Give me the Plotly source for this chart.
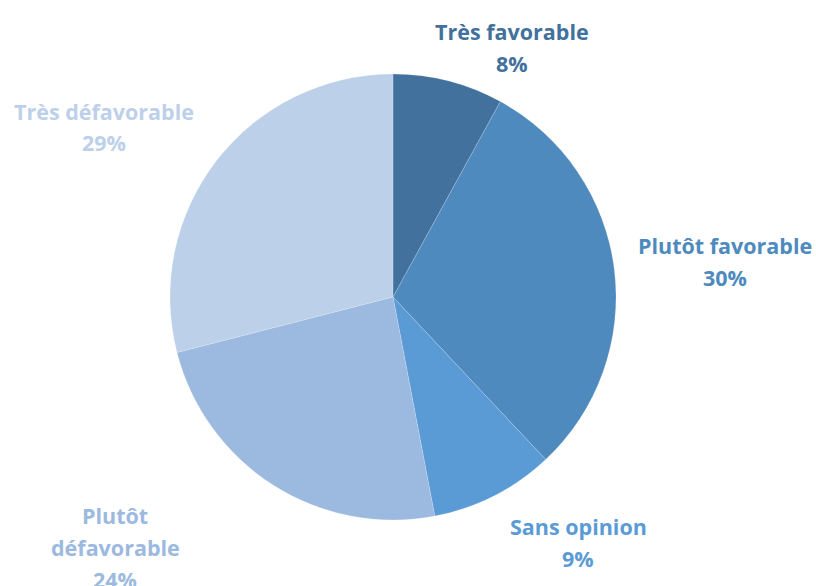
import plotly.graph_objects as go

# Opinion shares (percent)
categories = ["Très favorable", "Plutôt favorable", "Sans opinion", "Plutôt défavorable", "Très défavorable"]
values = [8, 30, 9, 24, 29]
colors = ["#41719C", "#4E8ABE", "#5B9BD5", "#9CB9E0", "#BDD0EA"]

W, H = 816, 586
cx, cy, r = 393, 297, 223

fig = go.Figure(go.Pie(
    labels=categories,
    values=values,
    sort=False,
    direction="clockwise",
    rotation=0,
    marker=dict(colors=colors, line=dict(color="rgba(255,255,255,0.35)", width=0.5)),
    textinfo="none",
    hoverinfo="label+percent",
    showlegend=False,
    domain=dict(x=[(cx - r) / W, (cx + r) / W], y=[(H - cy - r) / H, (H - cy + r) / H]),
))

# Label line positions (pixel centres): each category label is split into lines
label_lines = [
    ["Très favorable"],
    ["Plutôt favorable"],
    ["Sans opinion"],
    ["Plutôt", "défavorable"],
    ["Très défavorable"],
]
label_pos = [(512, 31), (725, 245), (578, 526), (115, 515), (104, 111)]
line_gap = 32

annotations = []
total = sum(values)
for lines, (px, py), v, c in zip(label_lines, label_pos, values, colors):
    all_lines = lines + [f"{round(100 * v / total)}%"]
    for i, t in enumerate(all_lines):
        annotations.append(dict(
            x=px / W, y=1 - (py + i * line_gap) / H, xref="paper", yref="paper",
            text=f"<b>{t}</b>", showarrow=False, xanchor="center", yanchor="middle",
            font=dict(family="Open Sans", size=21.5, color=c),
        ))

fig.update_layout(
    width=W, height=H,
    margin=dict(l=0, r=0, t=0, b=0),
    paper_bgcolor="white",
    plot_bgcolor="white",
    annotations=annotations,
)

fig.write_html("out.html")
